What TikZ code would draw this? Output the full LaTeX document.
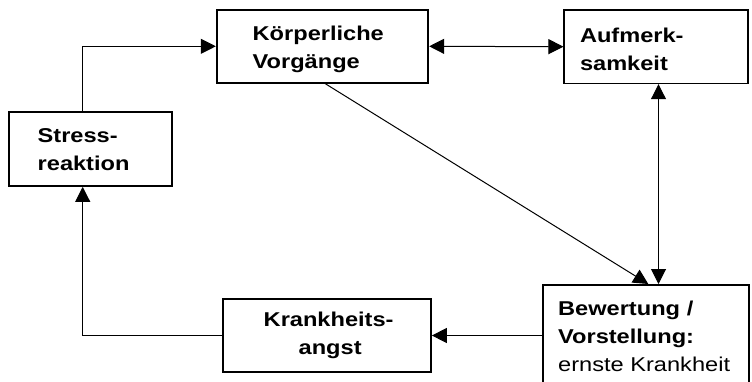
\documentclass[tikz,border=0pt]{standalone}
\usepackage{fontspec}
\setmainfont{Liberation Sans}[FakeStretch=1.18]
\usetikzlibrary{arrows.meta}
\begin{document}
\begin{tikzpicture}[x=1pt,y=-1pt,
  >={Triangle[length=15pt,width=15pt]},
  box/.style={draw, line width=1.7pt, inner ysep=0pt, align=left,
    font=\fontsize{20}{28}\selectfont\bfseries},
  arr/.style={line width=1pt, ->},
  darr/.style={line width=1pt, <->}]
\useasboundingbox (0,0) rectangle (752,381);
\clip (0,0) rectangle (752,381);
\node[box, minimum height=72.7pt, inner xsep=36pt, text width=139.6pt] (kv) at (322.5,46.3) {\rule{0pt}{21pt}Körperliche\\Vorgänge};
\node[box, minimum height=73.3pt, inner xsep=15.7pt, text width=152.6pt] (am) at (656.3,46.7) {\rule{0pt}{20pt}Aufmerk-\\samkeit};
\node[box, minimum height=73.7pt, inner xsep=28.7pt, text width=105.9pt] (st) at (90.65,149.15) {Stress-\\reaktion};
\node[box, align=center, minimum height=72.4pt, inner xsep=36.8pt, text width=134.1pt] (ka) at (327.15,335.5) {\hspace*{3pt}Krankheits-\\\hspace*{6pt}angst};
\node[box, anchor=north west, inner xsep=15pt, inner ysep=16.4pt, text width=176pt] (bw) at (542.3,284) {Bewertung /\\Vorstellung:\\{\mdseries ernste Krankheit}};
\coordinate (lx) at (82.7,0);
\coordinate (vx) at (658.5,0);
\coordinate (dsx) at (325,0);
\coordinate (dtx) at (648.3,0);
\draw[arr] (st.north -| lx) |- (kv.west);
\draw[darr] (kv.east) -- (am.west);
\draw[arr] (kv.south -| dsx) -- (bw.north -| dtx);
\draw[darr] (am.south -| vx) -- (bw.north -| vx);
\draw[arr] (ka.east -| bw.west) -- (ka.east);
\draw[arr] (ka.west) -| (st.south -| lx);
\end{tikzpicture}
\end{document}
